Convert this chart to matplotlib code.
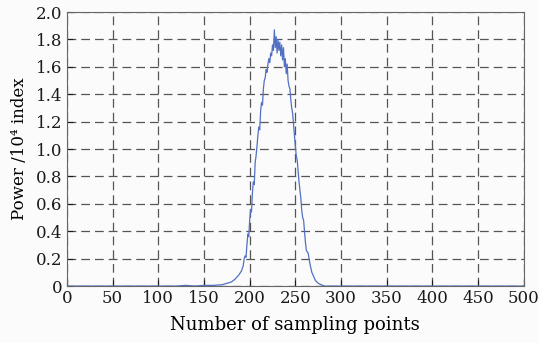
import matplotlib
matplotlib.use("Agg")
from matplotlib import pyplot as plt

samplePoints = [0, 120, 130, 140, 150, 160, 170, 175, 180, 184, 188, 191, 193, 194, 195,
                196, 197, 198, 199, 200, 201, 202, 203, 204, 205, 206, 207, 208, 209, 210,
                211, 212, 213, 214, 215, 216, 217, 218, 219, 220, 221, 222, 223, 224, 225,
                226, 227, 228, 229, 230, 231, 232, 233, 234, 235, 236, 237, 238, 239, 240,
                241, 242, 243, 244, 245, 246, 247, 248, 249, 250, 251, 252, 253, 254, 255,
                256, 257, 258, 259, 260, 261, 262, 263, 264, 265, 266, 267, 268, 270, 272,
                275, 278, 282, 290, 500]
power = [0, 0, 0.005, 0, 0.005, 0.005, 0.01, 0.02, 0.03, 0.05, 0.08, 0.11, 0.15, 0.20, 0.22,
         0.21, 0.30, 0.38, 0.36, 0.48, 0.56, 0.54, 0.68, 0.76, 0.74, 0.90, 0.95, 1.02, 1.10, 1.16,
         1.14, 1.28, 1.34, 1.32, 1.44, 1.50, 1.52, 1.58, 1.56, 1.62, 1.66, 1.63, 1.70, 1.68, 1.76,
         1.72, 1.87, 1.74, 1.82, 1.70, 1.80, 1.72, 1.78, 1.68, 1.76, 1.65, 1.74, 1.60, 1.66, 1.55,
         1.62, 1.50, 1.46, 1.44, 1.36, 1.30, 1.26, 1.18, 1.10, 1.02, 0.95, 0.92, 0.84, 0.76, 0.70,
         0.64, 0.55, 0.50, 0.48, 0.40, 0.32, 0.26, 0.25, 0.24, 0.20, 0.16, 0.13, 0.10, 0.07, 0.04,
         0.02, 0.01, 0.0, 0, 0]

xTicks = [0, 50, 100, 150, 200, 250, 300, 350, 400, 450, 500]
yTicks = [0, 0.2, 0.4, 0.6, 0.8, 1.0, 1.2, 1.4, 1.6, 1.8, 2.0]
yTickLabels = ["0", "0.2", "0.4", "0.6", "0.8", "1.0", "1.2", "1.4", "1.6", "1.8", "2.0"]

plt.rcParams["font.family"] = "DejaVu Serif"

fig = plt.figure(figsize=(5.39, 3.43), dpi=100, facecolor="#fbfbfb")
ax = fig.add_axes([0.124, 0.166, 0.848, 0.799])
ax.set_facecolor("#fbfbfb")

ax.plot(samplePoints, power, color="#5270c4", lw=0.9)

ax.set_xlim(0, 500)
ax.set_ylim(0, 2.0)
ax.set_xticks(xTicks)
ax.set_yticks(yTicks)
ax.set_yticklabels(yTickLabels)
ax.tick_params(direction="in", length=4, labelsize=12, colors="#1a1a1a", pad=3)
ax.grid(True, color="#555555", linestyle=(0, (7, 4)), lw=0.9)
for s in ax.spines.values():
    s.set_color("#666666")
    s.set_linewidth(0.8)

ax.set_xlabel("Number of sampling points", fontsize=13, labelpad=6)
ax.set_ylabel("Power /10\u2074 index", fontsize=12, labelpad=6)

plt.savefig("out.png", dpi=100, facecolor=fig.get_facecolor())
